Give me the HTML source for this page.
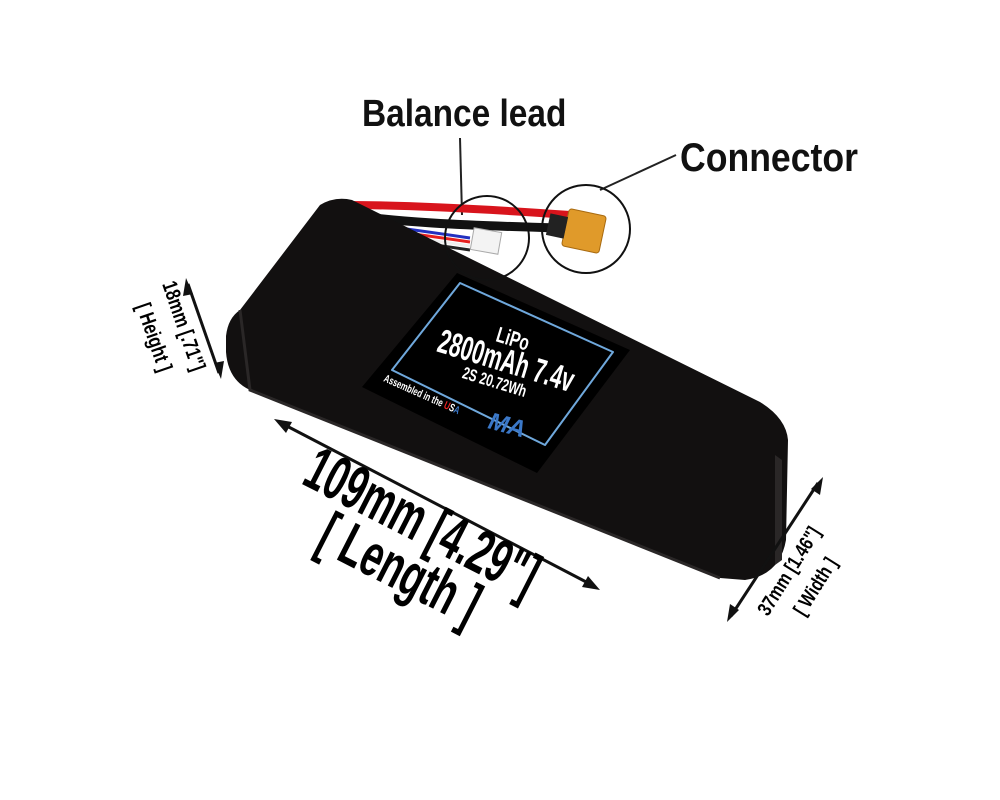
<!DOCTYPE html>
<html><head><style>
html,body{margin:0;padding:0;background:#fff;width:1000px;height:800px;overflow:hidden}
svg{display:block}
text{font-family:"Liberation Sans",sans-serif;font-weight:bold}
</style></head><body>
<svg width="1000" height="800" viewBox="0 0 1000 800">
<!-- callout lines -->
<line x1="460" y1="138" x2="462" y2="215" stroke="#222" stroke-width="2"/>
<line x1="676" y1="155" x2="600" y2="190" stroke="#222" stroke-width="2"/>
<text x="0" y="0" font-size="38" fill="#111" transform="translate(362,126) scale(0.88,1)">Balance lead</text>
<text x="0" y="0" font-size="40" fill="#111" transform="translate(680,171) scale(0.89,1)">Connector</text>
<!-- wires -->
<path d="M345 205 C400 205 470 208 570 215" stroke="#d8141c" stroke-width="8" fill="none"/>
<path d="M350 215 C400 222 450 225 560 228" stroke="#111" stroke-width="9" fill="none"/>
<path d="M355 222 C400 228 430 232 470 238" stroke="#2330c0" stroke-width="3" fill="none"/>
<path d="M355 226 C400 232 430 236 470 242" stroke="#e6201f" stroke-width="3" fill="none"/>
<path d="M355 230 C400 236 430 240 470 246" stroke="#eee" stroke-width="3" fill="none"/>
<path d="M355 234 C400 240 430 244 470 250" stroke="#222" stroke-width="3" fill="none"/>
<rect x="472" y="230" width="28" height="22" fill="#f3f3f3" stroke="#aaa" transform="rotate(10 486 241)"/>
<rect x="565" y="212" width="38" height="38" rx="3" fill="#e09a2a" stroke="#a86a10" transform="rotate(12 584 231)"/>
<rect x="548" y="215" width="18" height="22" fill="#222" transform="rotate(12 557 226)"/>
<!-- battery body -->
<path d="M320 205 Q335 196 352 200 L760 402 Q786 418 788 440 L786 540 Q780 575 745 580 L720 578 L250 390 Q228 380 226 352 L226 336 Q228 318 240 310 Z" fill="#121010"/>
<path d="M240 310 L250 390 L720 578" fill="none" stroke="#2a2727" stroke-width="3"/>
<path d="M775 455 L782 460 L782 560 L775 565 Z" fill="#2a2727"/>
<!-- label -->
<path d="M457 273 L630 350 L537 473 L362 387 Z" fill="#000"/>
<path d="M460 283 L613 352 L545 445 L392 370 Z" fill="none" stroke="#6fa8dc" stroke-width="2" stroke-linejoin="round"/>
<g transform="rotate(17 505 365)">
<text x="0" y="0" font-size="22" fill="#fff" text-anchor="middle" transform="translate(505,345) scale(0.7,1)">LiPo</text>
<text x="0" y="0" font-size="34" fill="#fff" text-anchor="middle" transform="translate(505,372) scale(0.62,1)">2800mAh 7.4v</text>
<text x="0" y="0" font-size="17" fill="#fff" text-anchor="middle" transform="translate(500,390) scale(0.7,1)">2S 20.72Wh</text>
</g>
<text x="0" y="0" font-size="11" fill="#fff" transform="translate(383,381) rotate(24) scale(0.7,1)">Assembled in the <tspan fill="#e22">U</tspan>S<tspan fill="#3b78c8">A</tspan></text>
<text x="0" y="0" font-size="24" fill="#3b78c8" font-style="italic" transform="translate(487,428) rotate(15)">MA</text>
<!-- dimension arrows -->
<g stroke="#111" stroke-width="3">
<line x1="188" y1="284" x2="219" y2="373"/>
<line x1="281" y1="423" x2="592" y2="585"/>
<line x1="818" y1="483" x2="731" y2="616"/>
</g>
<polygon points="186,278 193,294 183,296" fill="#111"/>
<polygon points="221,379 214,363 224,361" fill="#111"/>
<polygon points="274,419 292,422 286,433" fill="#111"/>
<polygon points="600,590 582,587 588,576" fill="#111"/>
<polygon points="823,477 820,495 811,489" fill="#111"/>
<polygon points="727,622 730,604 739,610" fill="#111"/>
<g fill="#000">
<text x="0" y="0" font-size="21" transform="translate(162,284) rotate(71) scale(0.78,1)">18mm [.71"]</text>
<text x="0" y="0" font-size="21" transform="translate(136,306) rotate(71) scale(0.78,1)">[ Height ]</text>
<text x="0" y="0" font-size="62" transform="translate(300,483) rotate(27) scale(0.6,1)">109mm [4.29"]</text>
<text x="0" y="0" font-size="60" transform="translate(314,548) rotate(27) scale(0.63,1)">[ Length ]</text>
<text x="0" y="0" font-size="20" transform="translate(768,617) rotate(-58) scale(0.8,1)">37mm [1.46"]</text>
<text x="0" y="0" font-size="20" transform="translate(804,617) rotate(-58) scale(0.8,1)">[ Width ]</text>
</g>
<!-- circles -->
<circle cx="487" cy="238" r="42" fill="none" stroke="#111" stroke-width="2"/>
<circle cx="586" cy="229" r="44" fill="none" stroke="#111" stroke-width="2"/>
</svg>
</body></html>
